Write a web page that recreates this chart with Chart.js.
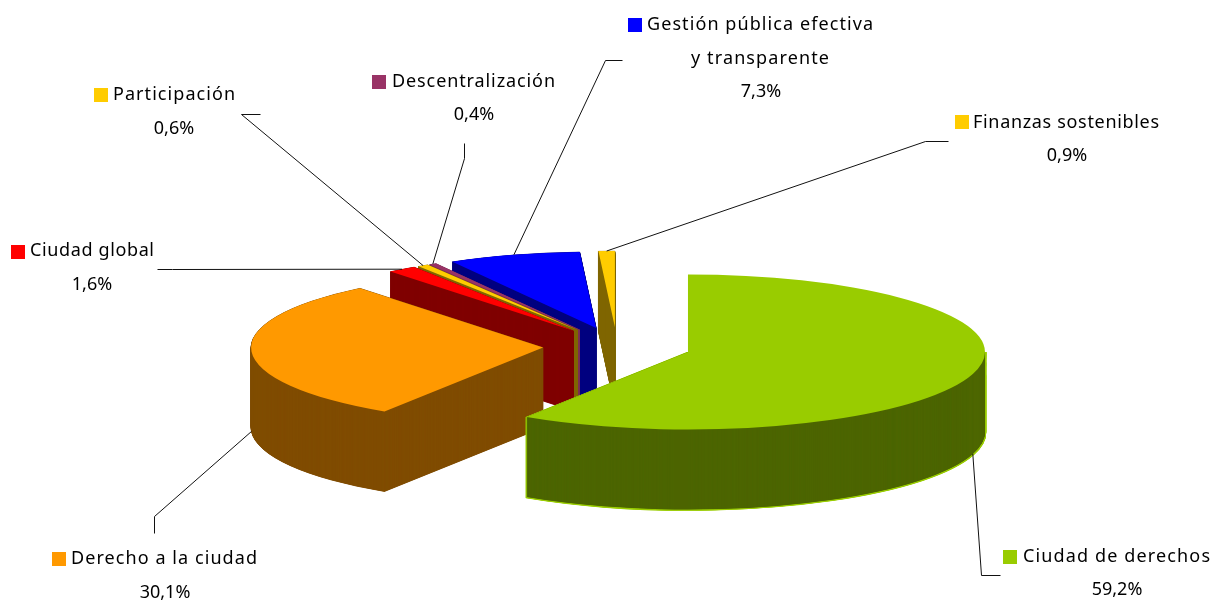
<!DOCTYPE html>
<html lang="es">
<head>
<meta charset="utf-8">
<title>Ciudad de derechos</title>
<script src="https://cdn.jsdelivr.net/npm/chart.js@4"></script>
<style>
  html, body { margin: 0; padding: 0; background: #fff; }
  canvas { display: block; }
</style>
</head>
<body>
<canvas id="pie" width="1213" height="601"></canvas>
<script>
const categories = ["Ciudad de derechos", "Derecho a la ciudad", "Ciudad global", "Participación", "Descentralización", "Gestión pública efectiva", "Finanzas sostenibles"];
const values = [59.2, 30.1, 1.6, 0.6, 0.4, 7.3, 0.9];
const topColors = ["#99CC00", "#FF9900", "#FF0000", "#FFCC00", "#993366", "#0000FF", "#FFCC00"];
const wallColors = ["#4D6600", "#804D00", "#800000", "#806600", "#7A2E55", "#000080", "#806600"];

// painter's order for the side walls, back to front
const wallOrder = [6, 5, 4, 3, 2, 1, 0];

// tilt of the pie and how far every slice is pulled out
const squash = 0.261;
const depth = 80;
const explode = 74;
const centerY = 346.5;
const greenGrow = 5;
const wallStep = 0.25;
const fontName = "'Noto Sans'";
const fontSize = 18;

// text block of each label: swatch left, first line baseline and width, centre of the value, elbow of the leader, end of the leader
const labelLayout = [
  { lines: ["Ciudad de derechos"], swatch: [1003, 550], text: 1023, base: 562, width: 187, valX: 1117, valY: 595, leader: [[981, 575], [1000, 575]] },
  { lines: ["Derecho a la ciudad"], swatch: [52, 552], text: 71, base: 564, width: 186, valX: 165, valY: 598, leader: [[154, 516], [154, 533]] },
  { lines: ["Ciudad global"], swatch: [11, 245], text: 30, base: 256, width: 124, valX: 92, valY: 290, leader: [[172, 269], [157, 269]] },
  { lines: ["Participación"], swatch: [94, 88], text: 113, base: 100, width: 122, valX: 174, valY: 134, leader: [[241, 114], [260, 114]] },
  { lines: ["Descentralización"], swatch: [372, 75], text: 392, base: 87, width: 163, valX: 474, valY: 120, leader: [[464, 158], [464, 143]] },
  { lines: ["Gestión pública efectiva", "y transparente"], swatch: [628, 18], text: 647, base: 30, width: 226, line2X: 691, line2Y: 64, width2: 138, valX: 761, valY: 97, leader: [[605, 60], [622, 60]] },
  { lines: ["Finanzas sostenibles"], swatch: [955, 115], text: 973, base: 128, width: 186, valX: 1067, valY: 161, leader: [[925, 141], [948, 141]] },
];

function tilt(ctx, pivotY) {
  ctx.translate(0, centerY);
  ctx.scale(1, squash);
  ctx.translate(0, -pivotY);
}

function drawWall(ctx, arc, fill, border, borderWidth, extra) {
  const saved = arc.options;
  arc.options = Object.assign({}, saved, { backgroundColor: fill, borderColor: border, borderWidth: borderWidth });
  for (let d = depth + extra; d >= wallStep; d -= wallStep) {
    ctx.save();
    ctx.translate(0, d / squash);
    arc.draw(ctx);
    ctx.restore();
  }
  arc.options = saved;
}

// line of text stretched to the width it has in the picture
function fitText(ctx, text, x, y, width) {
  ctx.letterSpacing = "0px";
  const natural = ctx.measureText(text).width;
  ctx.letterSpacing = (width - natural) / (text.length - 1) + "px";
  ctx.fillText(text, x, y);
  ctx.letterSpacing = "0px";
}

const pie3d = {
  id: "pie3d",
  // Chart.js stretches slices when its own offset option is used, so move the arcs here
  afterDatasetUpdate(chart) {
    const arcs = chart.getDatasetMeta(0).data;
    arcs.forEach((arc, i) => {
      const mid = (arc.startAngle + arc.endAngle) / 2;
      arc.pivotY = arc.y;
      arc.x += Math.cos(mid) * explode;
      arc.y += Math.sin(mid) * explode;
      if (i === 0) arc.outerRadius += greenGrow;
    });
  },
  beforeDatasetsDraw(chart) {
    const ctx = chart.ctx;
    const arcs = chart.getDatasetMeta(0).data;
    ctx.save();
    tilt(ctx, arcs[0].pivotY);
    wallOrder.forEach((i) => {
      const arc = arcs[i];
      ctx.save();
      if (i === 0) {
        // only the part under the centre of the green slice shows, the rest would bleed through its top
        ctx.beginPath();
        ctx.rect(0, arc.y, chart.width, 10000);
        ctx.clip();
        // the green slice has a light edge round its wall
        drawWall(ctx, arc, topColors[i], topColors[i], 2.5, 1);
        drawWall(ctx, arc, wallColors[i], null, 0, 0);
      } else {
        // a thin stroke keeps the narrow slices from fading out near their tip
        drawWall(ctx, arc, wallColors[i], wallColors[i], 1, 0);
      }
      ctx.restore();
    });
  },
  afterDatasetsDraw(chart) {
    chart.ctx.restore();
  },
  afterDraw(chart) {
    const ctx = chart.ctx;
    const arcs = chart.getDatasetMeta(0).data;
    ctx.save();
    labelLayout.forEach((lab, i) => {
      const arc = arcs[i];
      const mid = (arc.startAngle + arc.endAngle) / 2;
      const ex = arc.x + Math.cos(mid) * arc.outerRadius;
      let ey = centerY + (arc.y - arc.pivotY + Math.sin(mid) * arc.outerRadius) * squash;
      if (Math.sin(mid) > 0) ey += depth;

      ctx.strokeStyle = "#111";
      ctx.lineWidth = 1;
      ctx.beginPath();
      ctx.moveTo(ex, ey);
      ctx.lineTo(lab.leader[0][0] + 0.5, lab.leader[0][1] + 0.5);
      ctx.lineTo(lab.leader[1][0] + 0.5, lab.leader[1][1] + 0.5);
      ctx.stroke();

      ctx.fillStyle = topColors[i];
      ctx.fillRect(lab.swatch[0], lab.swatch[1], 14, 14);

      ctx.fillStyle = "#000";
      ctx.font = fontSize + "px " + fontName;
      ctx.textBaseline = "alphabetic";
      ctx.textAlign = "left";
      fitText(ctx, lab.lines[0], lab.text, lab.base, lab.width);
      if (lab.lines[1]) fitText(ctx, lab.lines[1], lab.line2X, lab.line2Y, lab.width2);
      ctx.textAlign = "center";
      ctx.fillText(values[i].toFixed(1).replace(".", ",") + "%", lab.valX, lab.valY);
    });
    ctx.restore();
  },
};

new Chart(document.getElementById("pie"), {
  type: "pie",
  data: {
    labels: categories,
    datasets: [{
      data: values,
      backgroundColor: topColors,
      borderWidth: 0,
      hoverOffset: 0,
      clip: false,
    }],
  },
  options: {
    responsive: false,
    animation: false,
    events: [],
    radius: 292,
    layout: { padding: { left: 21 } },
    plugins: { legend: { display: false }, tooltip: { enabled: false } },
  },
  plugins: [pie3d],
});
</script>
</body>
</html>
